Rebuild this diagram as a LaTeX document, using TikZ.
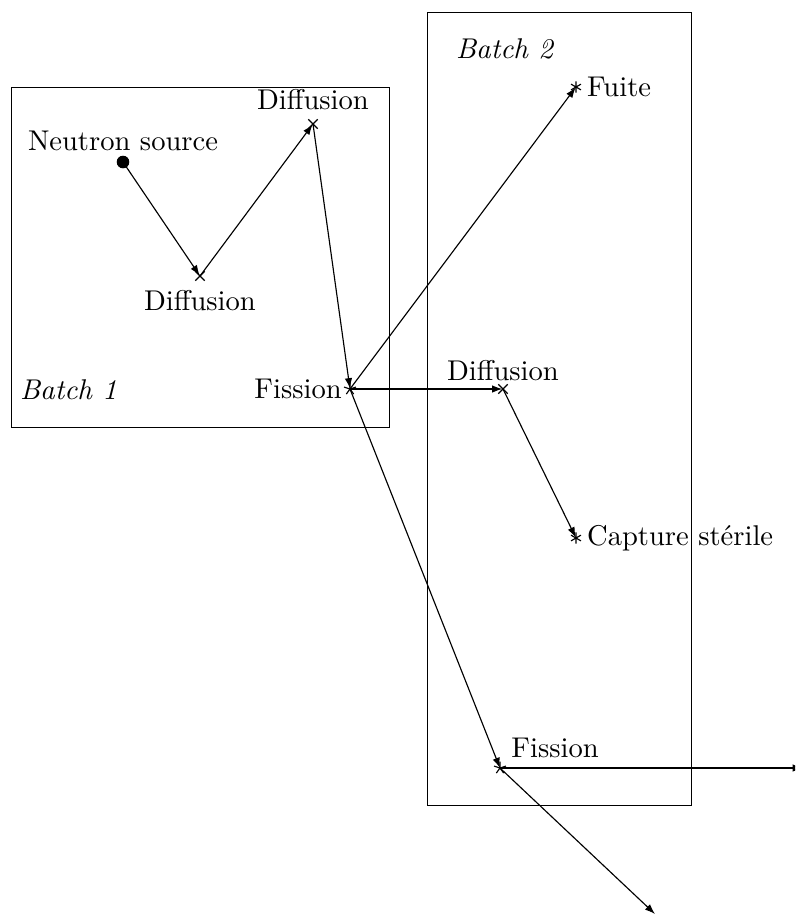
\documentclass[tikz,border=0pt]{standalone}
\usepackage{tikz}
\usetikzlibrary{arrows.meta,plotmarks}

\begin{document}
\begin{tikzpicture}[x=0.35pt,y=-0.35pt,
	>={Latex[width=2.6pt,length=3.6pt]},
    pt/.style = {inner sep=0pt, minimum size=0pt},
    batch/.style = {draw=black, line width=0.3pt},
    lbl/.style = {inner sep=1.5pt}]
  \clip (0,0) rectangle (795,916);
  \useasboundingbox (0,0) rectangle (795,916);

  % batches
  \draw[batch] (11,87) rectangle (389,427);
  \draw[batch] (427,12) rectangle (691,805);
  \node (b1) [anchor=west] at (10,390) {\textit{Batch 1}};
  \node (b2) [anchor=west] at (446,49) {\textit{Batch 2}};

  % events
  \node (src) [pt, label={[lbl, label distance=2pt]above:Neutron source}] at (123,162) {};
  \node (d1) [pt, label={[lbl, label distance=3pt]below:Diffusion}] at (200,276) {};
  \node (d2) [pt, label={[lbl, label distance=3pt]above:Diffusion}] at (313,124) {};
  \node (f1) [pt, label={[lbl, label distance=1pt]left:Fission}] at (350,389) {};
  \node (fuite) [pt, label={[lbl, label distance=2pt]right:Fuite}] at (576,87) {};
  \node (d3) [pt, label={[lbl, label distance=1pt]above:Diffusion}] at (503,389) {};
  \node (cap) [pt, label={[lbl, label distance=2pt]right:Capture st\'erile}] at (576,538) {};
  \node (f2) [pt, label={[lbl, label distance=1pt]above right:Fission}] at (504,765) {};
  \coordinate (out1) at (803,768);
  \coordinate (out2) at (655,914);
  \coordinate (f2c) at (500,768);

  \draw plot[only marks, mark=*, mark size=2pt] coordinates {(src)};
  \draw plot[only marks, mark=x, mark size=2.3pt] coordinates {(d1) (d2) (d3)};
  \draw plot[only marks, mark=star, mark size=2.2pt] coordinates {(f1) (f2c)};
  \draw plot[only marks, mark=asterisk, mark size=2pt] coordinates {(fuite) (cap)};

  \path[->]
    (src) edge (d1)
    (d1) edge (d2)
    (d2) edge (f1)
    (f1) edge (fuite)
    (f1) edge (d3)
    (f1) edge (f2c)
    (d3) edge (cap)
    (f2c) edge (out1)
    (f2c) edge (out2);
\end{tikzpicture}
\end{document}
